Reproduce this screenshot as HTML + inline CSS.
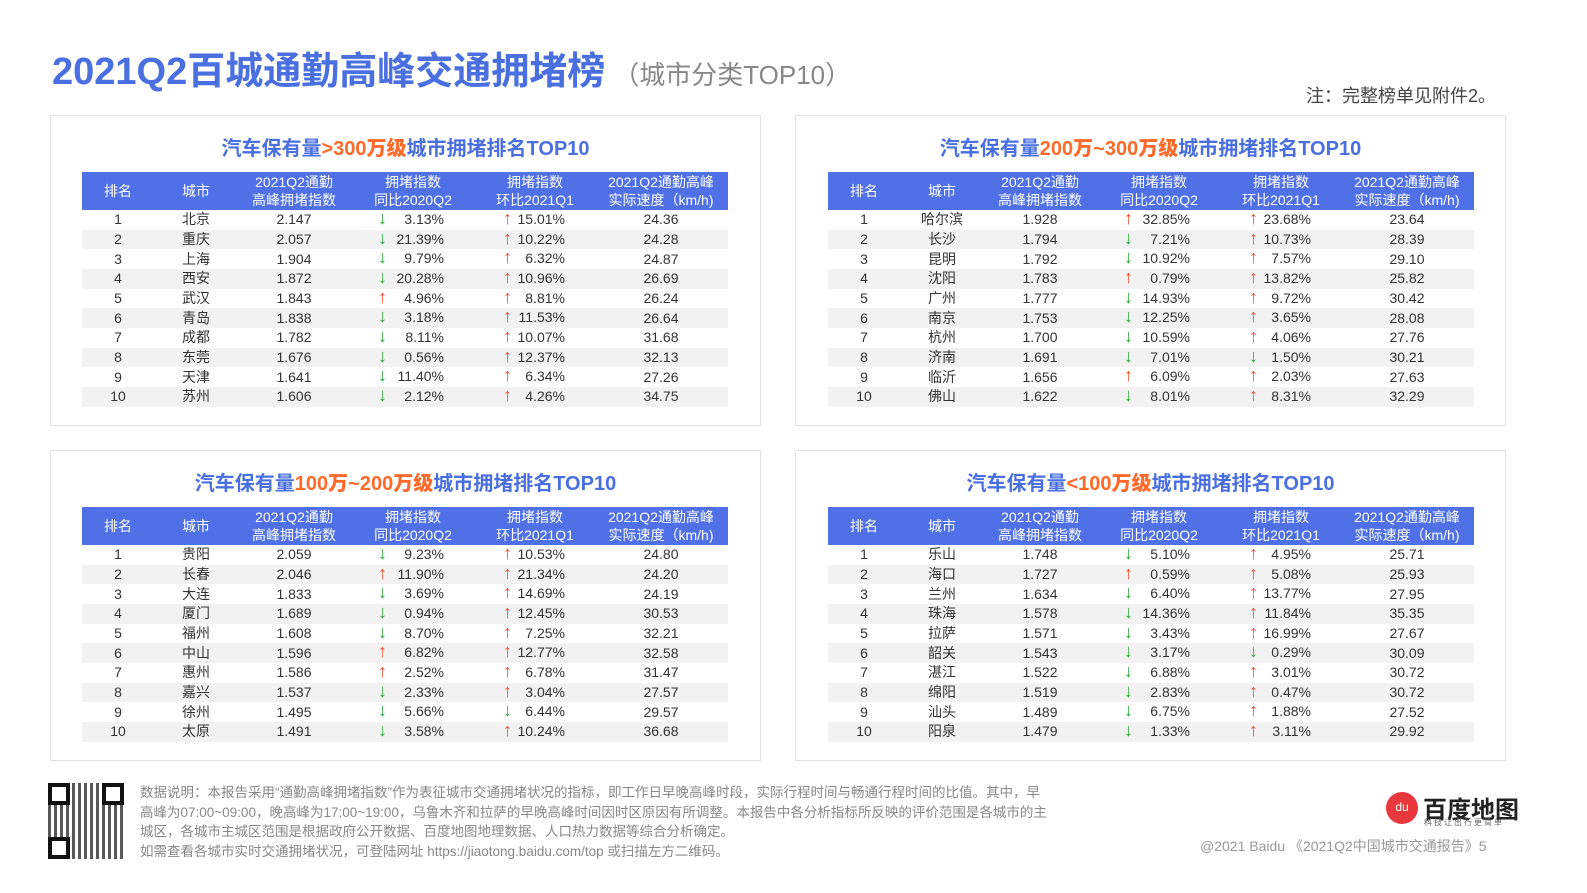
<!DOCTYPE html><html><head><meta charset="utf-8"><style>
body{margin:0;width:1587px;height:893px;background:#fff;font-family:"Liberation Sans","Noto Sans CJK SC",sans-serif;position:relative;overflow:hidden}
.abs{position:absolute}
.panel{position:absolute;width:711px;height:311px;border:1px solid #e2e2e2;box-sizing:border-box}
.pt{position:absolute;top:16px;left:0;width:100%;text-align:center;font-size:20px;font-weight:bold;color:#4a6fe0}
.pt b{color:#ff6a2a}
table{position:absolute;top:56px;border-collapse:collapse;width:646px;table-layout:fixed;font-size:14px;color:#333}
th{background:#5070e8;color:#fff;font-weight:normal;height:38px;line-height:18px;font-size:14px;padding:0}
td{height:19.67px;padding:0;text-align:center;line-height:19px}
tr.g td{background:#f2f2f2}
td.a{text-align:left;position:relative}
td.a span.ar{position:absolute;top:-1px;font-size:18px;font-weight:bold}
td.a span.n{position:absolute;top:0}
.dn{color:#2aa63a}.up{color:#f04a2a}
</style></head><body>
<div class="abs" style="left:52px;top:40px;font-size:38px;font-weight:bold;color:#4a6fe0">2021Q2百城通勤高峰交通拥堵榜<span style="font-size:26px;font-weight:normal;color:#888;margin-left:8px">（城市分类TOP10）</span></div>
<div class="abs" style="left:1306px;top:82px;font-size:18px;color:#444">注：完整榜单见附件2。</div>
<div id="c"></div>
<div class="abs" style="left:48px;top:783px;width:76px;height:76px;background:repeating-linear-gradient(90deg,#222 0 3px,#fff 3px 6px),#222;opacity:.75"></div>
<div class="abs" style="left:48px;top:783px;width:22px;height:22px;border:4px solid #111;background:#fff;box-sizing:border-box"></div>
<div class="abs" style="left:102px;top:783px;width:22px;height:22px;border:4px solid #111;background:#fff;box-sizing:border-box"></div>
<div class="abs" style="left:48px;top:837px;width:22px;height:22px;border:4px solid #111;background:#fff;box-sizing:border-box"></div>
<div class="abs" style="left:140px;top:783px;width:940px;font-size:13.5px;line-height:19.5px;color:#888">数据说明：本报告采用“通勤高峰拥堵指数”作为表征城市交通拥堵状况的指标，即工作日早晚高峰时段，实际行程时间与畅通行程时间的比值。其中，早<br>高峰为07:00~09:00，晚高峰为17:00~19:00，乌鲁木齐和拉萨的早晚高峰时间因时区原因有所调整。本报告中各分析指标所反映的评价范围是各城市的主<br>城区，各城市主城区范围是根据政府公开数据、百度地图地理数据、人口热力数据等综合分析确定。<br>如需查看各城市实时交通拥堵状况，可登陆网址 https://jiaotong.baidu.com/top 或扫描左方二维码。</div>
<div class="abs" style="left:1386px;top:792px;width:32px;height:32px;border-radius:50%;background:#e8383d;color:#fff;font-size:12px;text-align:center;line-height:30px">du</div>
<div class="abs" style="left:1423px;top:790px;font-size:24px;font-weight:bold;color:#222">百度地图</div>
<div class="abs" style="left:1424px;top:817px;font-size:8px;color:#666;letter-spacing:2px">科技让出行更简单</div>
<div class="abs" style="left:1200px;top:836px;font-size:14px;color:#999">@2021 Baidu 《2021Q2中国城市交通报告》5</div>
<script>
var P=[
[50,115,'汽车保有量','>300万级',[
['北京','2.147',0,'3.13%',1,'15.01%','24.36'],['重庆','2.057',0,'21.39%',1,'10.22%','24.28'],['上海','1.904',0,'9.79%',1,'6.32%','24.87'],['西安','1.872',0,'20.28%',1,'10.96%','26.69'],['武汉','1.843',1,'4.96%',1,'8.81%','26.24'],['青岛','1.838',0,'3.18%',1,'11.53%','26.64'],['成都','1.782',0,'8.11%',1,'10.07%','31.68'],['东莞','1.676',0,'0.56%',1,'12.37%','32.13'],['天津','1.641',0,'11.40%',1,'6.34%','27.26'],['苏州','1.606',0,'2.12%',1,'4.26%','34.75']]],
[795,115,'汽车保有量','200万~300万级',[
['哈尔滨','1.928',1,'32.85%',1,'23.68%','23.64'],['长沙','1.794',0,'7.21%',1,'10.73%','28.39'],['昆明','1.792',0,'10.92%',1,'7.57%','29.10'],['沈阳','1.783',1,'0.79%',1,'13.82%','25.82'],['广州','1.777',0,'14.93%',1,'9.72%','30.42'],['南京','1.753',0,'12.25%',1,'3.65%','28.08'],['杭州','1.700',0,'10.59%',1,'4.06%','27.76'],['济南','1.691',0,'7.01%',0,'1.50%','30.21'],['临沂','1.656',1,'6.09%',1,'2.03%','27.63'],['佛山','1.622',0,'8.01%',1,'8.31%','32.29']]],
[50,450,'汽车保有量','100万~200万级',[
['贵阳','2.059',0,'9.23%',1,'10.53%','24.80'],['长春','2.046',1,'11.90%',1,'21.34%','24.20'],['大连','1.833',0,'3.69%',1,'14.69%','24.19'],['厦门','1.689',0,'0.94%',1,'12.45%','30.53'],['福州','1.608',0,'8.70%',1,'7.25%','32.21'],['中山','1.596',1,'6.82%',1,'12.77%','32.58'],['惠州','1.586',1,'2.52%',1,'6.78%','31.47'],['嘉兴','1.537',0,'2.33%',1,'3.04%','27.57'],['徐州','1.495',0,'5.66%',0,'6.44%','29.57'],['太原','1.491',0,'3.58%',1,'10.24%','36.68']]],
[795,450,'汽车保有量','<100万级',[
['乐山','1.748',0,'5.10%',1,'4.95%','25.71'],['海口','1.727',1,'0.59%',1,'5.08%','25.93'],['兰州','1.634',0,'6.40%',1,'13.77%','27.95'],['珠海','1.578',0,'14.36%',1,'11.84%','35.35'],['拉萨','1.571',0,'3.43%',1,'16.99%','27.67'],['韶关','1.543',0,'3.17%',0,'0.29%','30.09'],['湛江','1.522',0,'6.88%',1,'3.01%','30.72'],['绵阳','1.519',0,'2.83%',1,'0.47%','30.72'],['汕头','1.489',0,'6.75%',1,'1.88%','27.52'],['阳泉','1.479',0,'1.33%',1,'3.11%','29.92']]]];
function ar(u){return u?'<span class="ar up">↑</span>':'<span class="ar dn">↓</span>'}
var h='';
P.forEach(function(p){
 h+='<div class="panel" style="left:'+p[0]+'px;top:'+p[1]+'px"><div class="pt">'+p[2]+'<b>'+p[3].replace('<','&lt;')+'</b>城市拥堵排名TOP10</div>';
 h+='<table style="left:'+(p[0]==50?31:32)+'px"><colgroup><col style="width:72px"><col style="width:84px"><col style="width:112px"><col style="width:126px"><col style="width:118px"><col style="width:134px"></colgroup>';
 h+='<tr><th>排名</th><th>城市</th><th>2021Q2通勤<br>高峰拥堵指数</th><th>拥堵指数<br>同比2020Q2</th><th>拥堵指数<br>环比2021Q1</th><th>2021Q2通勤高峰<br>实际速度（km/h)</th></tr>';
 p[4].forEach(function(r,i){
  h+='<tr class="'+(i%2?'g':'')+'"><td>'+(i+1)+'</td><td>'+r[0]+'</td><td>'+r[1]+'</td><td class="a">'+ar(r[2]).replace('class="ar','style="left:28px" class="ar')+'<span class="n" style="right:32px">'+r[3]+'</span></td><td class="a">'+ar(r[4]).replace('class="ar','style="left:27px" class="ar')+'<span class="n" style="right:29px">'+r[5]+'</span></td><td>'+r[6]+'</td></tr>';
 });
 h+='</table></div>';
});
document.getElementById('c').innerHTML=h;
</script>
</body></html>
